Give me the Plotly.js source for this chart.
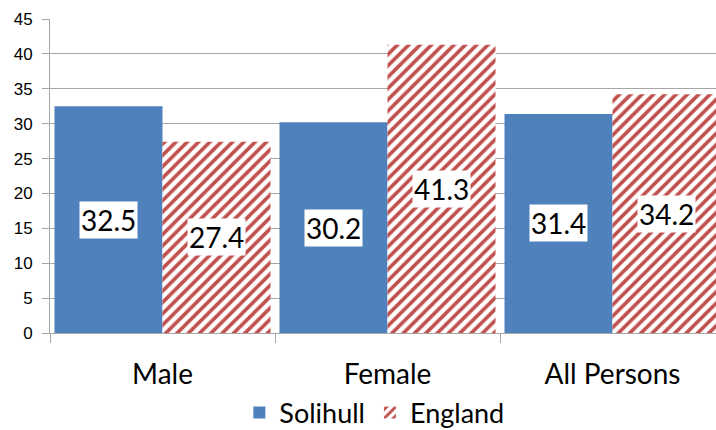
<!DOCTYPE html>
<html>
<head>
<meta charset="utf-8">
<script src="https://cdn.plot.ly/plotly-3.0.1.min.js"></script>
<style>html,body{margin:0;padding:0;background:#fff;}#chart{width:716px;height:430px;}</style>
</head>
<body>
<div id="chart"></div>
<script>
const categories = ["Male", "Female", "All Persons"];
const seriesNames = ["Solihull", "England"];
const solihull = [32.5, 30.2, 31.4];
const england = [27.4, 41.3, 34.2];
const yTicks = [0, 5, 10, 15, 20, 25, 30, 35, 40, 45];

const traces = [
  {
    type: "bar", name: seriesNames[0], x: categories, y: solihull,
    marker: {color: "#4F81BD", line: {width: 0}},
    hoverinfo: "skip"
  },
  {
    type: "bar", name: seriesNames[1], x: categories, y: england,
    marker: {color: "#C0504D", line: {width: 0},
      pattern: {shape: "/", fgcolor: "#C0504D", bgcolor: "#FFFFFF", fgopacity: 1,
        size: 8, solidity: 0.45, fillmode: "replace"}},
    hoverinfo: "skip"
  }
];

const labelFont = {family: "Lato, 'Open Sans', sans-serif", size: 28, color: "#000"};
const annotations = [];
categories.forEach((c, i) => {
  [[solihull, -54], [england, 54]].forEach(([arr, shift]) => {
    annotations.push({
      x: c, y: arr[i] / 2, xref: "x", yref: "y", xshift: shift,
      text: arr[i].toFixed(1), showarrow: false,
      bgcolor: "#FFFFFF", borderpad: 1, font: labelFont
    });
  });
});

const layout = {
  width: 716, height: 430,
  margin: {l: 50, r: 0, t: 19, b: 97, autoexpand: false},
  paper_bgcolor: "#FFFFFF", plot_bgcolor: "#FFFFFF",
  barmode: "group", bargap: 0.04, bargroupgap: 0,
  showlegend: true,
  legend: {orientation: "h", x: 0.487, xanchor: "center", y: -0.255, yanchor: "middle",
    font: {family: "Lato, 'Open Sans', sans-serif", size: 27, color: "#000"},
    traceorder: "normal"},
  xaxis: {
    type: "category", range: [-0.5, 2.46], tickson: "boundaries", automargin: false,
    ticks: "outside", ticklen: 9, tickcolor: "#A6A6A6", tickwidth: 1,
    showline: true, linecolor: "#A6A6A6", linewidth: 1,
    showgrid: false, zeroline: false, ticklabelstandoff: 16,
    tickfont: {family: "Lato, 'Open Sans', sans-serif", size: 28, color: "#000"}
  },
  yaxis: {
    range: [0, 45], tickvals: yTicks, ticktext: yTicks.map(String), automargin: false,
    ticks: "outside", ticklen: 7, tickcolor: "#A6A6A6",
    showline: true, linecolor: "#A6A6A6", linewidth: 1,
    showgrid: true, gridcolor: "#A6A6A6", gridwidth: 1, zeroline: false,
    ticklabelstandoff: 6,
    tickfont: {family: "'Liberation Sans', Arial, sans-serif", size: 17, color: "#000"}
  },
  annotations: annotations
};

Plotly.newPlot("chart", traces, layout, {staticPlot: true, displayModeBar: false});
</script>
</body>
</html>
